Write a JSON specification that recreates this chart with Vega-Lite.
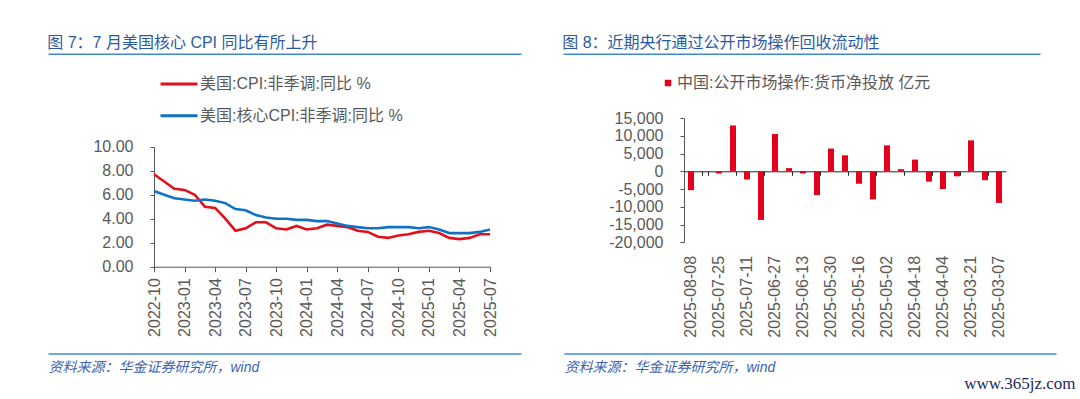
{
  "$schema": "https://vega.github.io/schema/vega-lite/v6.json",
  "background": "white",
  "padding": {"left": 45, "top": 34, "right": 4, "bottom": 4},
  "config": {
    "view": {"stroke": null},
    "locale": {"number": {"decimal": ".", "thousands": ",", "grouping": [3], "currency": ["$", ""], "minus": "-"}},
    "axis": {"labelFont": "Liberation Sans", "labelFontSize": 16, "labelColor": "#595959", "domainColor": "#595959", "tickColor": "#595959", "grid": false},
    "legend": {"labelFont": "Liberation Sans, Noto Sans CJK SC", "labelFontSize": 16, "labelColor": "#595959", "labelLimit": 400, "padding": 0, "clipHeight": 15, "rowPadding": 14.7},
    "title": {"font": "Liberation Sans, Noto Sans CJK SC", "fontSize": 16, "fontWeight": "normal", "color": "#2C5AA0"}
  },
  "datasets": {
    "cpi": [
      {"month": "2022-10", "series": "美国:CPI:非季调:同比 %", "value": 7.7},
      {"month": "2022-11", "series": "美国:CPI:非季调:同比 %", "value": 7.1},
      {"month": "2022-12", "series": "美国:CPI:非季调:同比 %", "value": 6.5},
      {"month": "2023-01", "series": "美国:CPI:非季调:同比 %", "value": 6.4},
      {"month": "2023-02", "series": "美国:CPI:非季调:同比 %", "value": 6.0},
      {"month": "2023-03", "series": "美国:CPI:非季调:同比 %", "value": 5.0},
      {"month": "2023-04", "series": "美国:CPI:非季调:同比 %", "value": 4.9},
      {"month": "2023-05", "series": "美国:CPI:非季调:同比 %", "value": 4.0},
      {"month": "2023-06", "series": "美国:CPI:非季调:同比 %", "value": 3.0},
      {"month": "2023-07", "series": "美国:CPI:非季调:同比 %", "value": 3.2},
      {"month": "2023-08", "series": "美国:CPI:非季调:同比 %", "value": 3.7},
      {"month": "2023-09", "series": "美国:CPI:非季调:同比 %", "value": 3.7},
      {"month": "2023-10", "series": "美国:CPI:非季调:同比 %", "value": 3.2},
      {"month": "2023-11", "series": "美国:CPI:非季调:同比 %", "value": 3.1},
      {"month": "2023-12", "series": "美国:CPI:非季调:同比 %", "value": 3.4},
      {"month": "2024-01", "series": "美国:CPI:非季调:同比 %", "value": 3.1},
      {"month": "2024-02", "series": "美国:CPI:非季调:同比 %", "value": 3.2},
      {"month": "2024-03", "series": "美国:CPI:非季调:同比 %", "value": 3.5},
      {"month": "2024-04", "series": "美国:CPI:非季调:同比 %", "value": 3.4},
      {"month": "2024-05", "series": "美国:CPI:非季调:同比 %", "value": 3.3},
      {"month": "2024-06", "series": "美国:CPI:非季调:同比 %", "value": 3.0},
      {"month": "2024-07", "series": "美国:CPI:非季调:同比 %", "value": 2.9},
      {"month": "2024-08", "series": "美国:CPI:非季调:同比 %", "value": 2.5},
      {"month": "2024-09", "series": "美国:CPI:非季调:同比 %", "value": 2.4},
      {"month": "2024-10", "series": "美国:CPI:非季调:同比 %", "value": 2.6},
      {"month": "2024-11", "series": "美国:CPI:非季调:同比 %", "value": 2.7},
      {"month": "2024-12", "series": "美国:CPI:非季调:同比 %", "value": 2.9},
      {"month": "2025-01", "series": "美国:CPI:非季调:同比 %", "value": 3.0},
      {"month": "2025-02", "series": "美国:CPI:非季调:同比 %", "value": 2.8},
      {"month": "2025-03", "series": "美国:CPI:非季调:同比 %", "value": 2.4},
      {"month": "2025-04", "series": "美国:CPI:非季调:同比 %", "value": 2.3},
      {"month": "2025-05", "series": "美国:CPI:非季调:同比 %", "value": 2.4},
      {"month": "2025-06", "series": "美国:CPI:非季调:同比 %", "value": 2.7},
      {"month": "2025-07", "series": "美国:CPI:非季调:同比 %", "value": 2.7},
      {"month": "2022-10", "series": "美国:核心CPI:非季调:同比 %", "value": 6.3},
      {"month": "2022-11", "series": "美国:核心CPI:非季调:同比 %", "value": 6.0},
      {"month": "2022-12", "series": "美国:核心CPI:非季调:同比 %", "value": 5.7},
      {"month": "2023-01", "series": "美国:核心CPI:非季调:同比 %", "value": 5.6},
      {"month": "2023-02", "series": "美国:核心CPI:非季调:同比 %", "value": 5.5},
      {"month": "2023-03", "series": "美国:核心CPI:非季调:同比 %", "value": 5.6},
      {"month": "2023-04", "series": "美国:核心CPI:非季调:同比 %", "value": 5.5},
      {"month": "2023-05", "series": "美国:核心CPI:非季调:同比 %", "value": 5.3},
      {"month": "2023-06", "series": "美国:核心CPI:非季调:同比 %", "value": 4.8},
      {"month": "2023-07", "series": "美国:核心CPI:非季调:同比 %", "value": 4.7},
      {"month": "2023-08", "series": "美国:核心CPI:非季调:同比 %", "value": 4.3},
      {"month": "2023-09", "series": "美国:核心CPI:非季调:同比 %", "value": 4.1},
      {"month": "2023-10", "series": "美国:核心CPI:非季调:同比 %", "value": 4.0},
      {"month": "2023-11", "series": "美国:核心CPI:非季调:同比 %", "value": 4.0},
      {"month": "2023-12", "series": "美国:核心CPI:非季调:同比 %", "value": 3.9},
      {"month": "2024-01", "series": "美国:核心CPI:非季调:同比 %", "value": 3.9},
      {"month": "2024-02", "series": "美国:核心CPI:非季调:同比 %", "value": 3.8},
      {"month": "2024-03", "series": "美国:核心CPI:非季调:同比 %", "value": 3.8},
      {"month": "2024-04", "series": "美国:核心CPI:非季调:同比 %", "value": 3.6},
      {"month": "2024-05", "series": "美国:核心CPI:非季调:同比 %", "value": 3.4},
      {"month": "2024-06", "series": "美国:核心CPI:非季调:同比 %", "value": 3.3},
      {"month": "2024-07", "series": "美国:核心CPI:非季调:同比 %", "value": 3.2},
      {"month": "2024-08", "series": "美国:核心CPI:非季调:同比 %", "value": 3.2},
      {"month": "2024-09", "series": "美国:核心CPI:非季调:同比 %", "value": 3.3},
      {"month": "2024-10", "series": "美国:核心CPI:非季调:同比 %", "value": 3.3},
      {"month": "2024-11", "series": "美国:核心CPI:非季调:同比 %", "value": 3.3},
      {"month": "2024-12", "series": "美国:核心CPI:非季调:同比 %", "value": 3.2},
      {"month": "2025-01", "series": "美国:核心CPI:非季调:同比 %", "value": 3.3},
      {"month": "2025-02", "series": "美国:核心CPI:非季调:同比 %", "value": 3.1},
      {"month": "2025-03", "series": "美国:核心CPI:非季调:同比 %", "value": 2.8},
      {"month": "2025-04", "series": "美国:核心CPI:非季调:同比 %", "value": 2.8},
      {"month": "2025-05", "series": "美国:核心CPI:非季调:同比 %", "value": 2.8},
      {"month": "2025-06", "series": "美国:核心CPI:非季调:同比 %", "value": 2.9},
      {"month": "2025-07", "series": "美国:核心CPI:非季调:同比 %", "value": 3.1}
    ],
    "omo": [
      {"date": "2025-08-08", "value": -5300},
      {"date": "2025-08-01", "value": 0},
      {"date": "2025-07-25", "value": -600},
      {"date": "2025-07-18", "value": 12900},
      {"date": "2025-07-11", "value": -2300},
      {"date": "2025-07-04", "value": -13700},
      {"date": "2025-06-27", "value": 10500},
      {"date": "2025-06-20", "value": 900},
      {"date": "2025-06-13", "value": -600},
      {"date": "2025-06-06", "value": -6700},
      {"date": "2025-05-30", "value": 6400},
      {"date": "2025-05-23", "value": 4500},
      {"date": "2025-05-16", "value": -3500},
      {"date": "2025-05-09", "value": -7900},
      {"date": "2025-05-02", "value": 7300},
      {"date": "2025-04-25", "value": 600},
      {"date": "2025-04-18", "value": 3300},
      {"date": "2025-04-11", "value": -2900},
      {"date": "2025-04-04", "value": -5000},
      {"date": "2025-03-28", "value": -1400},
      {"date": "2025-03-21", "value": 8700},
      {"date": "2025-03-14", "value": -2500},
      {"date": "2025-03-07", "value": -8900}
    ],
    "frame": [{"pos": 0}, {"pos": 1}]
  },
  "bounds": "flush",
  "spacing": 194,
  "resolve": {"scale": {"color": "independent"}, "legend": {"color": "independent"}},
  "hconcat": [
    {
      "width": 336,
      "height": 148.7,
      "title": {"text": "图 7：7 月美国核心 CPI 同比有所上升", "anchor": "start", "frame": "bounds", "offset": 3, "dx": 2},
      "layer": [
        {
          "data": {"name": "cpi"},
          "mark": {"type": "line", "strokeWidth": 2.6},
          "encoding": {
            "x": {"field": "month", "type": "ordinal", "scale": {"type": "point", "padding": 0},
                  "axis": {"orient": "bottom", "title": null, "values": ["2022-10", "2023-01", "2023-04", "2023-07", "2023-10", "2024-01", "2024-04", "2024-07", "2024-10", "2025-01", "2025-04", "2025-07"], "labelAngle": -90, "tickSize": 5, "labelPadding": 6}},
            "y": {"field": "value", "type": "quantitative", "scale": {"domain": [0, 10], "nice": false, "range": [148.7, 28.7]},
                  "axis": {"title": null, "values": [0, 2, 4, 6, 8, 10], "format": ".2f", "tickSize": 4, "labelPadding": 17}},
            "color": {"field": "series", "type": "nominal",
                      "scale": {"domain": ["美国:CPI:非季调:同比 %", "美国:核心CPI:非季调:同比 %"], "range": ["#E3101C", "#1072C2"]},
                      "legend": {"title": null, "orient": "none", "legendX": 5, "legendY": -41.5, "direction": "vertical", "symbolType": "stroke", "symbolSize": 1369, "symbolStrokeWidth": 3, "labelOffset": 1}}
          }
        },
        {
          "data": {"name": "frame"},
          "mark": {"type": "point", "opacity": 0},
          "encoding": {
            "x": {"field": "pos", "type": "quantitative", "scale": {"domain": [0, 1], "range": [-106, 367]},
                  "axis": {"orient": "top", "offset": 64.3, "title": null, "labels": false, "ticks": false, "domainColor": "#3E8ACC", "domainWidth": 1.5}},
            "y": {"datum": 5, "type": "quantitative", "axis": null}
          }
        },
        {
          "data": {"name": "frame"},
          "mark": {"type": "point", "opacity": 0},
          "encoding": {
            "x": {"field": "pos", "type": "quantitative", "scale": {"domain": [0, 1], "range": [-106, 367]},
                  "axis": {"orient": "bottom", "offset": 86.7, "title": "资料来源：华金证券研究所，wind", "titleAnchor": "start", "titlePadding": 7, "titleFont": "Liberation Sans, Noto Sans CJK SC", "titleFontSize": 14, "titleFontStyle": "italic", "titleFontWeight": "normal", "titleColor": "#3B64B0", "labels": false, "ticks": false, "domainColor": "#3E8ACC", "domainWidth": 1.5}},
            "y": {"datum": 5, "type": "quantitative", "axis": null}
          }
        }
      ],
      "resolve": {"scale": {"x": "independent"}, "axis": {"x": "independent", "y": "independent"}}
    },
    {
      "width": 322,
      "height": 124.4,
      "title": {"text": "图 8：近期央行通过公开市场操作回收流动性", "anchor": "start", "frame": "bounds", "offset": 3, "dx": 2},
      "layer": [
        {
          "data": {"name": "omo"},
          "mark": {"type": "bar"},
          "encoding": {
            "x": {"field": "date", "type": "ordinal", "sort": null, "scale": {"type": "band", "paddingInner": 0.57, "paddingOuter": 0.285},
                  "axis": {"orient": "bottom", "title": null, "values": ["2025-08-08", "2025-07-25", "2025-07-11", "2025-06-27", "2025-06-13", "2025-05-30", "2025-05-16", "2025-05-02", "2025-04-18", "2025-04-04", "2025-03-21", "2025-03-07"], "labelAngle": -90, "domain": false, "ticks": false, "tickSize": 0, "labelPadding": 13}},
            "y": {"field": "value", "type": "quantitative", "scale": {"domain": [-20000, 15000], "nice": false},
                  "axis": {"title": null, "values": [-20000, -15000, -10000, -5000, 0, 5000, 10000, 15000], "format": ",.0f", "tickSize": 4, "labelPadding": 17}},
            "color": {"datum": "中国:公开市场操作:货币净投放 亿元", "type": "nominal", "scale": {"range": ["#E2001A"]},
                      "legend": {"title": null, "orient": "none", "legendX": -24, "legendY": -42.5, "symbolType": "square", "symbolSize": 42, "labelOffset": 1}}
          }
        },
        {
          "data": {"name": "omo"},
          "mark": {"type": "bar", "opacity": 0},
          "encoding": {
            "x": {"field": "date", "type": "ordinal", "sort": null, "scale": {"type": "band", "paddingInner": 0.57, "paddingOuter": 0.285},
                  "axis": {"orient": "bottom", "offset": -71.1, "title": null, "labels": false, "values": ["2025-08-01", "2025-07-18", "2025-07-04", "2025-06-20", "2025-06-06", "2025-05-23", "2025-05-09", "2025-04-25", "2025-04-11", "2025-03-28", "2025-03-14"], "tickBand": "extent", "tickSize": 4, "domainColor": "#262626", "tickColor": "#262626"}},
            "y": {"field": "value", "type": "quantitative", "axis": null}
          }
        },
        {
          "data": {"name": "frame"},
          "mark": {"type": "point", "opacity": 0},
          "encoding": {
            "x": {"field": "pos", "type": "quantitative", "scale": {"domain": [0, 1], "range": [-121, 356]},
                  "axis": {"orient": "top", "offset": 64.3, "title": null, "labels": false, "ticks": false, "domainColor": "#3E8ACC", "domainWidth": 1.5}},
            "y": {"datum": 0, "type": "quantitative", "axis": null}
          }
        },
        {
          "data": {"name": "frame"},
          "mark": {"type": "point", "opacity": 0},
          "encoding": {
            "x": {"field": "pos", "type": "quantitative", "scale": {"domain": [0, 1], "range": [-120, 372]},
                  "axis": {"orient": "bottom", "offset": 111, "title": "资料来源：华金证券研究所，wind", "titleAnchor": "start", "titlePadding": 7, "titleFont": "Liberation Sans, Noto Sans CJK SC", "titleFontSize": 14, "titleFontStyle": "italic", "titleFontWeight": "normal", "titleColor": "#3B64B0", "labels": false, "ticks": false, "domainColor": "#3E8ACC", "domainWidth": 1.5}},
            "y": {"datum": 0, "type": "quantitative", "axis": null}
          }
        },
        {
          "data": {"name": "frame"},
          "mark": {"type": "point", "opacity": 0},
          "encoding": {
            "x": {"field": "pos", "type": "quantitative", "scale": {"domain": [0, 1], "range": [-120, 391]},
                  "axis": {"orient": "bottom", "offset": 111, "domain": false, "labels": false, "ticks": false, "title": "www.365jz.com", "titleAnchor": "end", "titlePadding": 22, "titleFont": "Liberation Serif", "titleFontSize": 17, "titleFontStyle": "normal", "titleFontWeight": "normal", "titleColor": "#1B2A5E"}},
            "y": {"datum": 0, "type": "quantitative", "axis": null}
          }
        }
      ],
      "resolve": {"scale": {"x": "independent"}, "axis": {"x": "independent", "y": "independent"}}
    }
  ]
}
